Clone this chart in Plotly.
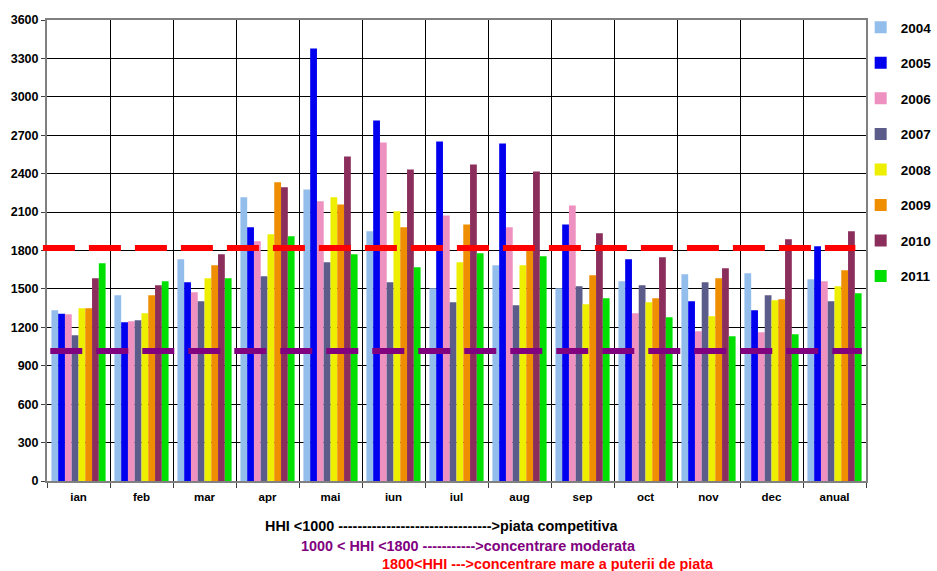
import plotly.graph_objects as go

categories = ["ian", "feb", "mar", "apr", "mai", "iun", "iul", "aug", "sep", "oct", "nov", "dec", "anual"]
years = ["2004", "2005", "2006", "2007", "2008", "2009", "2010", "2011"]

v2004 = [1333, 1450, 1731, 2215, 2277, 1950, 1505, 1684, 1505, 1560, 1614, 1622, 1575]
v2005 = [1307, 1240, 1552, 1981, 3377, 2815, 2651, 2636, 2004, 1731, 1404, 1333, 1833]
v2006 = [1302, 1248, 1474, 1872, 2184, 2644, 2074, 1981, 2152, 1310, 1170, 1162, 1560]
v2007 = [1139, 1256, 1404, 1599, 1708, 1552, 1396, 1372, 1521, 1528, 1552, 1450, 1404]
v2008 = [1349, 1310, 1583, 1926, 2215, 2106, 1708, 1684, 1380, 1396, 1287, 1411, 1521]
v2009 = [1349, 1450, 1684, 2332, 2160, 1981, 2004, 1805, 1606, 1427, 1583, 1419, 1645]
v2010 = [1583, 1528, 1770, 2293, 2534, 2433, 2472, 2417, 1934, 1747, 1661, 1887, 1950]
v2011 = [1700, 1560, 1583, 1911, 1770, 1669, 1778, 1755, 1427, 1279, 1131, 1146, 1466]

series_values = [v2004, v2005, v2006, v2007, v2008, v2009, v2010, v2011]
colors = ["#93BDEB", "#0000EE", "#EE90C0", "#5C5C8A", "#EEEE00", "#EE8E00", "#8C2E5C", "#00E000"]

threshold_moderate = 1015
threshold_high = 1820

y_ticks = [0, 300, 600, 900, 1200, 1500, 1800, 2100, 2400, 2700, 3000, 3300, 3600]

note_lines = [
    ("HHI <1000 -------------------------------->piata competitiva", "#000000"),
    ("1000 < HHI <1800 ----------->concentrare moderata", "#800080"),
    ("1800<HHI --->concentrare mare a puterii de piata", "#FF0000"),
]

FONT = "Liberation Sans, Arial, sans-serif"

fig = go.Figure()
for i, (yr, vals) in enumerate(zip(years, series_values)):
    fig.add_trace(go.Bar(
        x=categories, y=vals, name=yr, legendgroup=yr,
        marker=dict(color=colors[i], line=dict(width=0)),
    ))

# threshold dashed lines
fig.add_shape(type="line", xref="paper", yref="y", x0=-0.005, x1=0.987,
              y0=threshold_high, y1=threshold_high,
              line=dict(color="#FF0000", width=6, dash="32px,14px"), layer="above")
fig.add_shape(type="line", xref="paper", yref="y", x0=0.004, x1=0.995,
              y0=threshold_moderate, y1=threshold_moderate,
              line=dict(color="#800080", width=6, dash="32px,14px"), layer="above")

note_x = [263, 299, 380]
note_y = [526, 546, 564]
L, T, W, H = 47, 20, 819, 461
for (txt, col), px, py in zip(note_lines, note_x, note_y):
    fig.add_annotation(text=txt, xref="paper", yref="paper",
                       x=(px - L) / W, y=(T + H - py) / H,
                       xanchor="left", yanchor="middle", showarrow=False,
                       font=dict(family=FONT, size=14.4, color=col, weight="bold"))

fig.update_layout(
    width=937, height=571,
    margin=dict(l=L, r=937 - L - W, t=T, b=571 - T - H, autoexpand=False),
    paper_bgcolor="white", plot_bgcolor="white",
    barmode="group", bargap=0.14, bargroupgap=0,
    font=dict(family=FONT, color="black"),
    showlegend=True,
    legend=dict(x=0.9935, xanchor="left", y=1.0174, yanchor="top",
                font=dict(family=FONT, size=13.5, weight="bold"),
                tracegroupgap=15, itemclick=False, bgcolor="rgba(0,0,0,0)"),
    xaxis=dict(type="category", tickson="boundaries", showgrid=True, gridcolor="black", gridwidth=1,
               ticks="outside", ticklen=5, tickcolor="#404040", tickwidth=1,
               showline=True, linecolor="#808080", linewidth=2, mirror=True,
               tickfont=dict(family=FONT, size=11.5, weight="bold"), ticklabelstandoff=4),
    yaxis=dict(range=[0, 3600], tickvals=y_ticks, showgrid=True, gridcolor="black", gridwidth=1,
               ticks="outside", ticklen=4, tickcolor="#404040",
               showline=True, linecolor="#808080", linewidth=2, mirror=True, zeroline=False,
               tickfont=dict(family=FONT, size=12.5, weight="bold")),
)

fig.write_html("out.html", config={"displayModeBar": False},
               post_script="document.body.style.margin='0';document.body.style.overflow='hidden';")
